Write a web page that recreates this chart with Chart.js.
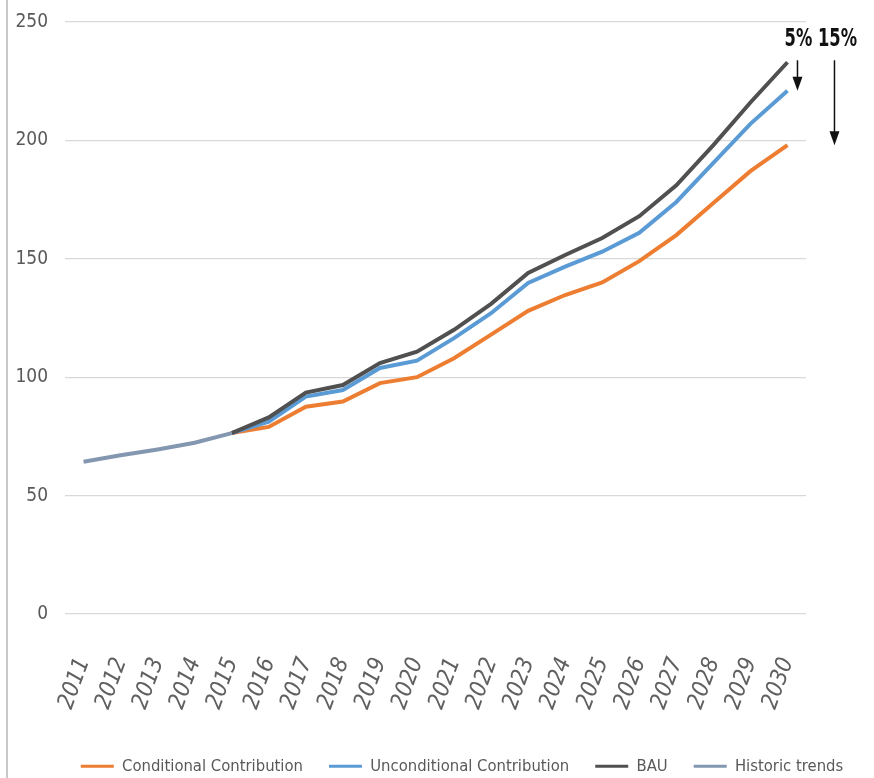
<!DOCTYPE html>
<html>
<head>
<meta charset="utf-8">
<script src="https://cdn.jsdelivr.net/npm/chart.js@4.4.1/dist/chart.umd.min.js"></script>
<style>
  html, body { margin: 0; padding: 0; background: #fff; }
  #wrap { position: relative; width: 874px; height: 778px; }
  #wrap:before { content: ''; position: absolute; left: 6px; top: 0; bottom: 0; border-left: 2px solid #c8c8c8; }
</style>
</head>
<body>
<div id="wrap"><canvas id="chart" width="874" height="778"></canvas></div>
<script>
const years = ['2011','2012','2013','2014','2015','2016','2017','2018','2019','2020',
  '2021','2022','2023','2024','2025','2026','2027','2028','2029','2030']

// valores
const historic = [64.3, 67, 69.5, 72.3, 76.4, null, null, null, null, null,
  null, null, null, null, null, null, null, null, null, null]
const bau = [null, null, null, null, 76.4, 83, 93.5, 96.7, 106, 110.8,
  120, 131, 144, 151.6, 158.8, 168, 181, 198, 216, 233]
const unconditional = [null, null, null, null, 76.4, 81.2, 91.8, 94.6, 103.9, 107,
  116.5, 127, 139.8, 146.7, 153, 161, 174, 190.5, 207, 221]
const conditional = [null, null, null, null, 76.4, 79, 87.5, 89.7, 97.5, 100,
  108, 118, 128, 134.7, 140, 149, 160, 173.6, 187, 198]
const yTicks = [0, 50, 100, 150, 200, 250]

const fontFamily = "'DejaVu Sans', sans-serif"
// truque: o Chart.js põe o "weight" na string da fonte, daí o condensed
const narrow = 'condensed'

// setas de redução (5% e 15%) ancoradas nos valores de 2030
const arrowsPlugin = {
  id: 'arrows',
  afterLayout(chart) {
    // desloca a legenda um pouco para a direita, como no original
    chart.legend.left += 25
    chart.legend.right += 25
  },
  afterDatasetsDraw(chart) {
    const { ctx, scales } = chart
    const last = years.length - 1
    const xEnd = scales.x.getPixelForValue(last)
    const yTop = scales.y.getPixelForValue(bau[last])
    const arrows = [
      { label: '5%', x: xEnd + 10, dx: 1, to: unconditional[last] },
      { label: '15%', x: xEnd + 47, dx: 3, to: conditional[last] }
    ]
    ctx.save()
    ctx.fillStyle = '#111'
    ctx.strokeStyle = '#111'
    arrows.forEach(a => {
      const yBottom = scales.y.getPixelForValue(a.to)
      // texto estreito, tipo Calibri
      ctx.save()
      ctx.translate(a.x + a.dx, yTop - 10)
      ctx.scale(0.68, 1.05)
      ctx.font = "bold 24px " + fontFamily
      ctx.textAlign = 'center'
      ctx.textBaseline = 'bottom'
      ctx.fillText(a.label, 0, 0)
      ctx.restore()
      ctx.lineWidth = 1.5
      ctx.beginPath()
      ctx.moveTo(a.x, yTop - 2)
      ctx.lineTo(a.x, yBottom - 12)
      ctx.stroke()
      ctx.beginPath()
      ctx.moveTo(a.x - 5, yBottom - 14)
      ctx.lineTo(a.x + 5, yBottom - 14)
      ctx.lineTo(a.x, yBottom)
      ctx.closePath()
      ctx.fill()
    })
    ctx.restore()
  }
}

function lineDataset(label, data, color, order) {
  return {
    label: label,
    data: data,
    borderColor: color,
    backgroundColor: color,
    borderWidth: 4,
    pointRadius: 0,
    tension: 0,
    spanGaps: false,
    order: order
  }
}

const ctx = document.getElementById('chart').getContext('2d')
new Chart(ctx, {
  type: 'line',
  data: {
    labels: years,
    datasets: [
      lineDataset('Conditional Contribution', conditional, '#ED7D31', 3),
      lineDataset('Unconditional Contribution', unconditional, '#5B9BD5', 2),
      lineDataset('BAU', bau, '#505050', 1),
      lineDataset('Historic trends', historic, '#8497B0', 0)
    ]
  },
  options: {
    responsive: false,
    animation: false,
    layout: {
      padding: { left: 0, right: 0, top: 22, bottom: 0 }
    },
    plugins: {
      legend: {
        position: 'bottom',
        maxHeight: 46,
        labels: {
          boxWidth: 33,
          boxHeight: 3,
          color: '#595959',
          padding: 26,
          sort: (a, b) => a.datasetIndex - b.datasetIndex,
          // linhas finas na legenda (sem contorno)
          generateLabels(chart) {
            return Chart.defaults.plugins.legend.labels.generateLabels(chart)
              .map(item => Object.assign(item, { lineWidth: 0 }))
          },
          font: { family: fontFamily, size: 16.5, weight: narrow }
        }
      },
      tooltip: { enabled: false }
    },
    scales: {
      x: {
        offset: true,
        grid: { display: false },
        border: { display: false },
        afterFit(axis) { axis.height = 118 },
        ticks: {
          color: '#606060',
          minRotation: 70,
          maxRotation: 70,
          padding: 32,
          font: { family: fontFamily, size: 23, style: 'italic', weight: narrow }
        }
      },
      y: {
        min: 0,
        max: 250,
        afterBuildTicks(axis) {
          axis.ticks = yTicks.map(v => ({ value: v }))
        },
        afterFit(axis) {
          axis.width = 65
          axis.paddingTop = 0
          axis.paddingBottom = 0
        },
        grid: { color: '#d9d9d9', lineWidth: 1.2, drawTicks: false },
        border: { display: false },
        ticks: {
          color: '#595959',
          padding: 17,
          font: { family: fontFamily, size: 19, weight: narrow }
        }
      },
      // eixo vazio só para reservar a margem direita das setas
      yRight: {
        position: 'right',
        grid: { display: false },
        border: { display: false },
        ticks: { display: false },
        afterFit(axis) { axis.width = 68 }
      }
    }
  },
  plugins: [arrowsPlugin]
})
</script>
</body>
</html>
